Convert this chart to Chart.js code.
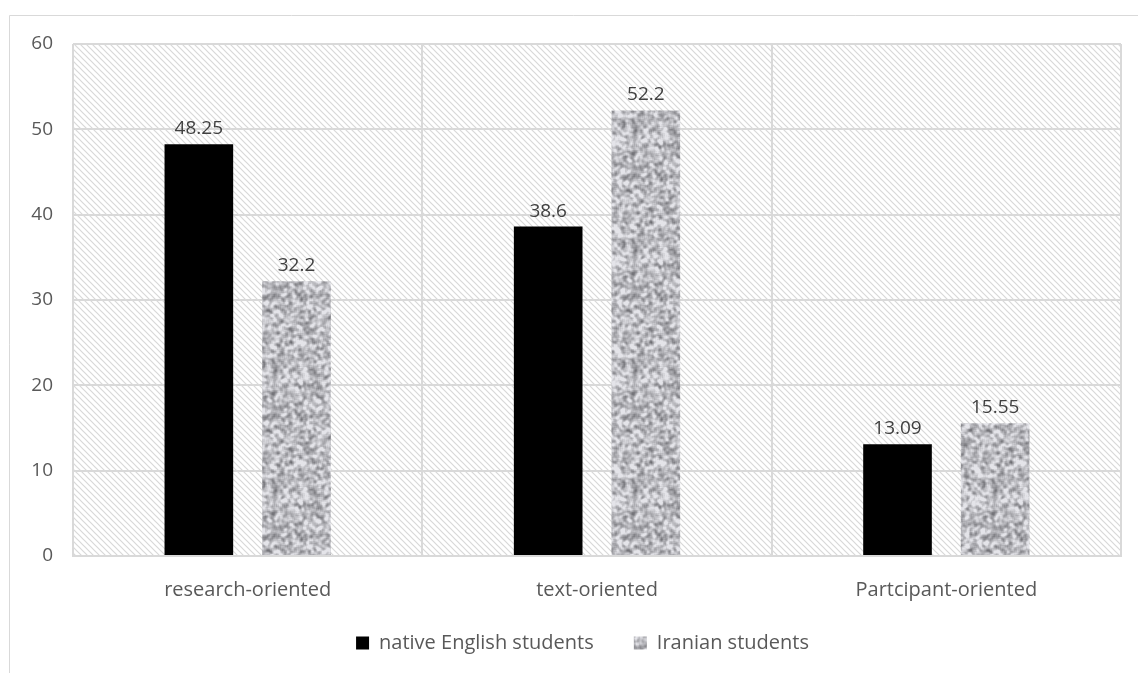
<!DOCTYPE html>
<html>
<head>
<meta charset="utf-8">
<script src="https://cdn.jsdelivr.net/npm/chart.js@4"></script>
<style>
  html, body { margin: 0; padding: 0; background: #fff; }
  #wrap { width: 1138px; height: 673px; position: relative; }
</style>
</head>
<body>
<div id="wrap"><canvas id="chart" width="1138" height="673"></canvas></div>
<script>
const categories = ['research-oriented', 'text-oriented', 'Partcipant-oriented'];
const nativeValues = [48.25, 38.6, 13.09];
const iranianValues = [32.2, 52.2, 15.55];
const seriesNames = ['native English students', 'Iranian students'];
const yTicks = [0, 10, 20, 30, 40, 50, 60];

const FONT = '"Open Sans", "Noto Sans", sans-serif';
const NUM_SIZE = 19;
const TXT_SIZE = 20;

// seeded random just for the bar texture (not data)
let seed = 12345;
function rnd() {
  seed = (seed * 1103515245 + 12345) & 0x7fffffff;
  return seed / 0x7fffffff;
}

function makeNoisePattern(ctx) {
  const N = 120;
  let v = new Float32Array(N * N);
  for (let i = 0; i < N * N; i++) v[i] = rnd();
  // wrapping box blur -> soft blobs
  const R = 1;
  for (let pass = 0; pass < 2; pass++) {
    const out = new Float32Array(N * N);
    for (let y = 0; y < N; y++) {
      for (let x = 0; x < N; x++) {
        let s = 0;
        for (let dy = -R; dy <= R; dy++) {
          for (let dx = -R; dx <= R; dx++) {
            s += v[((y + dy + N) % N) * N + ((x + dx + N) % N)];
          }
        }
        out[y * N + x] = s / ((2 * R + 1) * (2 * R + 1));
      }
    }
    v = out;
  }
  const c = document.createElement('canvas');
  c.width = N; c.height = N;
  const g = c.getContext('2d');
  const img = g.createImageData(N, N);
  for (let i = 0; i < N * N; i++) {
    let t = (v[i] - 0.5) * 8;
    let val = 190 + t * 48;
    val = Math.max(80, Math.min(228, val));
    img.data[i * 4] = val;
    img.data[i * 4 + 1] = val;
    img.data[i * 4 + 2] = val + 5;
    img.data[i * 4 + 3] = 255;
  }
  g.putImageData(img, 0, 0);
  return ctx.createPattern(c, 'repeat');
}

function makeHatchPattern(ctx) {
  const c = document.createElement('canvas');
  c.width = 6; c.height = 6;
  const h = c.getContext('2d');
  h.fillStyle = '#ffffff';
  h.fillRect(0, 0, 6, 6);
  h.strokeStyle = '#d8d8d8';
  h.lineWidth = 1.2;
  h.beginPath();
  h.moveTo(-1, -1); h.lineTo(7, 7);
  h.moveTo(-4, 2); h.lineTo(4, 10);
  h.moveTo(2, -4); h.lineTo(10, 4);
  h.stroke();
  return ctx.createPattern(c, 'repeat');
}

const canvas = document.getElementById('chart');
const ctx = canvas.getContext('2d');
const noise = makeNoisePattern(ctx);
const hatch = makeHatchPattern(ctx);

const frame = {
  id: 'frame',
  afterLayout(chart) {
    // legend sits a little right of centre in the original
    if (chart.legend) {
      chart.legend.left += 16;
      chart.legend.right += 16;
    }
  },
  beforeDraw(chart) {
    const c = chart.ctx;
    const a = chart.chartArea;
    c.save();
    c.fillStyle = '#fff';
    c.fillRect(0, 0, chart.width, chart.height);
    c.strokeStyle = '#d9d9d9';
    c.lineWidth = 1;
    c.beginPath();
    c.moveTo(9.5, 673);
    c.lineTo(9.5, 15.5);
    c.lineTo(1138, 15.5);
    c.stroke();
    c.fillStyle = hatch;
    c.fillRect(a.left, a.top, a.right - a.left, a.bottom - a.top);
    c.restore();
  }
};

const valueLabels = {
  id: 'valueLabels',
  afterDatasetsDraw(chart) {
    const c = chart.ctx;
    c.save();
    c.font = NUM_SIZE + 'px ' + FONT;
    c.fillStyle = '#404040';
    c.textAlign = 'center';
    c.textBaseline = 'bottom';
    chart.data.datasets.forEach((ds, i) => {
      chart.getDatasetMeta(i).data.forEach((bar, j) => {
        c.fillText(String(ds.data[j]), bar.x, bar.y - 6);
      });
    });
    c.restore();
  }
};

new Chart(ctx, {
  type: 'bar',
  data: {
    labels: categories,
    datasets: [
      {
        label: seriesNames[0] + '      ',
        data: nativeValues,
        backgroundColor: '#000000',
        categoryPercentage: 0.559,
        barPercentage: 0.703
      },
      {
        label: seriesNames[1],
        data: iranianValues,
        backgroundColor: noise,
        categoryPercentage: 0.559,
        barPercentage: 0.703
      }
    ]
  },
  options: {
    responsive: false,
    animation: false,
    layout: { padding: { left: 12, top: 44, right: 17, bottom: 10 } },
    plugins: {
      legend: {
        position: 'bottom',
        labels: {
          boxWidth: 13,
          boxHeight: 13,
          padding: 9,
          color: '#595959',
          font: { family: FONT, size: TXT_SIZE }
        }
      },
      tooltip: { enabled: false }
    },
    scales: {
      x: {
        grid: { color: '#d9d9d9', lineWidth: 2, drawTicks: false },
        border: { color: '#d9d9d9', width: 2 },
        ticks: { color: '#595959', padding: 22, font: { family: FONT, size: TXT_SIZE } }
      },
      y: {
        min: 0,
        max: 60,
        afterBuildTicks(scale) {
          scale.ticks = yTicks.map(v => ({ value: v }));
        },
        afterFit(scale) { scale.width = 61; },
        grid: { color: '#d9d9d9', lineWidth: 2, drawTicks: false },
        border: { display: false },
        ticks: { color: '#595959', padding: 20, font: { family: FONT, size: NUM_SIZE } }
      }
    }
  },
  plugins: [frame, valueLabels]
});
</script>
</body>
</html>
